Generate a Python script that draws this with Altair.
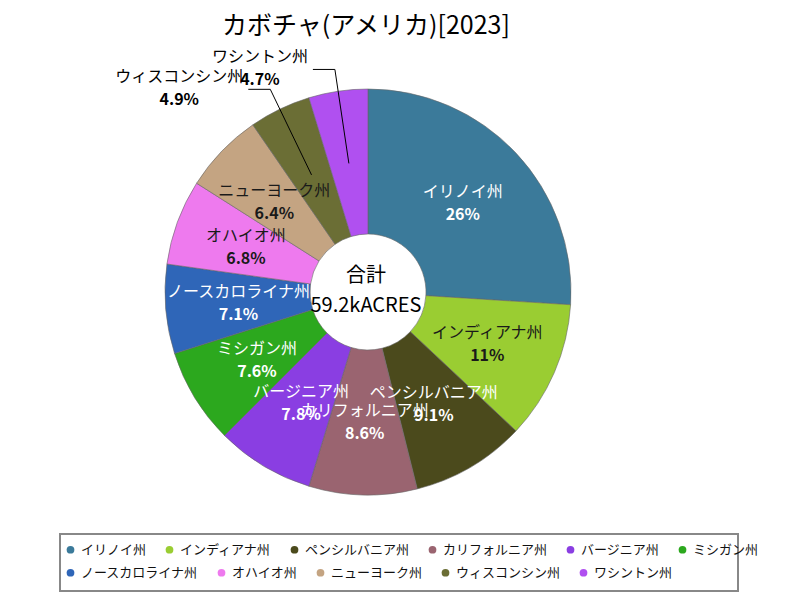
import math
import altair as alt
import pandas as pd

# ---- data ----
states = ["イリノイ州", "インディアナ州", "ペンシルバニア州", "カリフォルニア州", "バージニア州",
          "ミシガン州", "ノースカロライナ州", "オハイオ州", "ニューヨーク州", "ウィスコンシン州", "ワシントン州"]
shares = [26, 11, 9.1, 8.6, 7.8, 7.6, 7.1, 6.8, 6.4, 4.9, 4.7]
colors = ["#3b7a9a", "#9acd32", "#4b4a1c", "#9a6470", "#8a3ee2", "#2ca81e",
          "#2f66b8", "#ee7aee", "#c4a482", "#6b6e35", "#b050f0"]
text_colors = ["white", "#1a1a1a", "white", "white", "white", "white",
               "white", "#1a1a1a", "#1a1a1a", "black", "black"]
outside = [False, False, False, False, False, False, False, False, False, True, True]
legend_rows = [states[:6], states[6:]]
total_label = ["合計", "59.2kACRES"]
title = "カボチャ(アメリカ)[2023]"

FONT = "Noto Sans CJK JP"
W, H = 760, 540
TOP = 40                      # approx page y of plot origin
LEFT = 13
CX, CY = 368 - LEFT, 291 - TOP
R_IN, R_OUT, R_LAB, R_ELB = 58, 203, 130, 225
FS = 16


def pct(v):
    return f"{v:.0f}%" if v >= 10 else f"{v:.1f}%"


df = pd.DataFrame({
    "idx": list(range(len(states))),
    "state": states,
    "share": shares,
    "tc": text_colors,
    "name_in": [("" if o else s) for s, o in zip(states, outside)],
    "pct_in": [("" if o else pct(v)) for v, o in zip(shares, outside)],
})

# leader lines + outside labels (positions derived from the shares)
line_rows, lab_rows = [], []
cum = 0.0
tot = sum(shares)
for s, v, o in zip(states, shares, outside):
    mid = (cum + v / 2) / tot * 2 * math.pi
    cum += v
    if not o:
        continue
    sx, sy = math.sin(mid), -math.cos(mid)
    p0 = (CX + R_LAB * sx, CY + R_LAB * sy)
    p1 = (CX + R_ELB * sx, CY + R_ELB * sy)
    p2 = (p1[0] - 22, p1[1])
    for k, p in enumerate([p0, p1, p2]):
        line_rows.append({"state": s, "k": k, "px": p[0], "py": p[1]})
    name_right = p2[0] - 5
    lab_rows.append({"state": s, "txt": s, "px": name_right, "py": p2[1] - 12, "al": "r"})
    lab_rows.append({"state": s, "txt": pct(v), "px": name_right - len(s) * FS / 2,
                     "py": p2[1] + 11, "al": "c"})
lines_df = pd.DataFrame(line_rows)
labs_df = pd.DataFrame(lab_rows)

xs = alt.Scale(domain=[0, W], range=[0, W], nice=False, zero=False)
ys = alt.Scale(domain=[0, H], range=[0, H], nice=False, zero=False)

base = alt.Chart(df)


def legend_for(values, row_y):
    return alt.Legend(title=None, orient="none", legendX=64 - LEFT, legendY=row_y - TOP,
                      values=values, direction="horizontal",
                      symbolType="circle", symbolSize=60, symbolStrokeWidth=0,
                      labelFont=FONT, labelFontSize=13, labelColor="#111",
                      columnPadding=16, labelOffset=4, padding=0)


box = alt.Chart(pd.DataFrame({"b": [0]})).mark_rect(
    fill="white", stroke="#888888", strokeWidth=2).encode(
    x=alt.value(60 - LEFT), x2=alt.value(738 - LEFT),
    y=alt.value(533 - TOP), y2=alt.value(590 - TOP))

arcs = base.mark_arc(innerRadius=R_IN, outerRadius=R_OUT, stroke="#666666", strokeWidth=0.6).encode(
    theta=alt.Theta("share:Q", stack=True),
    order=alt.Order("idx:Q"),
    x=alt.value(CX), y=alt.value(CY),
    color=alt.Color("state:N", sort=states,
                    scale=alt.Scale(domain=states, range=colors),
                    legend=legend_for(legend_rows[0], 542)),
)
arcs_row2 = base.mark_arc(innerRadius=R_IN, outerRadius=R_OUT, opacity=0).encode(
    theta=alt.Theta("share:Q", stack=True),
    order=alt.Order("idx:Q"),
    x=alt.value(CX), y=alt.value(CY),
    color=alt.Color("state:N", sort=states,
                    scale=alt.Scale(domain=states, range=colors),
                    legend=legend_for(legend_rows[1], 565)),
)

name_txt = base.mark_text(radius=R_LAB, dy=-11, font=FONT, fontSize=FS).encode(
    theta=alt.Theta("share:Q", stack=True),
    order=alt.Order("idx:Q"),
    x=alt.value(CX), y=alt.value(CY),
    text="name_in:N",
    color=alt.Color("tc:N", scale=None),
)
pct_txt = base.mark_text(radius=R_LAB, dy=12, font=FONT, fontSize=FS, fontWeight="bold").encode(
    theta=alt.Theta("share:Q", stack=True),
    order=alt.Order("idx:Q"),
    x=alt.value(CX), y=alt.value(CY),
    text="pct_in:N",
    color=alt.Color("tc:N", scale=None),
)

leaders = alt.Chart(lines_df).mark_line(color="black", strokeWidth=1).encode(
    x=alt.X("px:Q", scale=xs, axis=None),
    y=alt.Y("py:Q", scale=ys, axis=None),
    detail="state:N",
    order=alt.Order("k:Q"),
)
out_name = alt.Chart(labs_df).transform_filter("datum.al == 'r'").mark_text(
    align="right", font=FONT, fontSize=FS, color="black").encode(
    x=alt.X("px:Q", scale=xs, axis=None), y=alt.Y("py:Q", scale=ys, axis=None), text="txt:N")
out_pct = alt.Chart(labs_df).transform_filter("datum.al == 'c'").mark_text(
    align="center", font=FONT, fontSize=FS, fontWeight="bold", color="black").encode(
    x=alt.X("px:Q", scale=xs, axis=None), y=alt.Y("py:Q", scale=ys, axis=None), text="txt:N")

center_df = pd.DataFrame({"t": total_label, "off": [-16, 14]})
center_top = alt.Chart(center_df).transform_filter("datum.off < 0").mark_text(
    font=FONT, fontSize=20, color="black", dy=-16).encode(
    x=alt.value(CX - 2), y=alt.value(CY), text="t:N")
center_bot = alt.Chart(center_df).transform_filter("datum.off > 0").mark_text(
    font=FONT, fontSize=20, color="black", dy=14).encode(
    x=alt.value(CX - 2), y=alt.value(CY), text="t:N")

chart = alt.layer(box, arcs, arcs_row2, name_txt, pct_txt, leaders, out_name, out_pct,
                  center_top, center_bot).resolve_scale(
    color="independent"
).resolve_legend(color="independent").properties(
    width=W, height=H,
    background="white",
    padding={"left": 5, "top": 6, "right": 5, "bottom": 5},
    title=alt.TitleParams(title, font=FONT, fontSize=25, fontWeight="normal", color="black",
                          anchor="middle", dx=-27, baseline="top", offset=2),
).configure_view(stroke=None)

chart.save("out.html", embed_options={"renderer": "svg", "actions": False})
